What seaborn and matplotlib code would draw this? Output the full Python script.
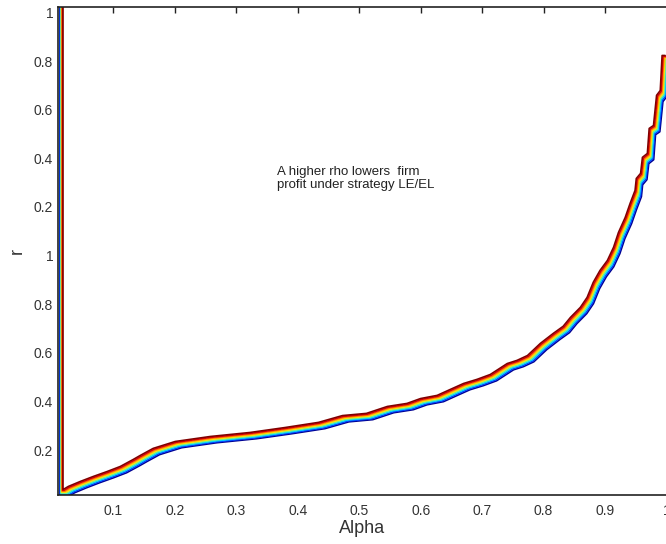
import matplotlib
matplotlib.use("Agg")
import matplotlib.pyplot as plt
import seaborn as sns
import pandas as pd

# base curve (middle of the band), r stacked on a 0..2 scale
alpha = [0.0238, 0.0319, 0.0514, 0.0726, 0.0953, 0.1165, 0.1376, 0.149, 0.170, 0.206,
         0.263, 0.328, 0.385, 0.439, 0.478, 0.517, 0.551, 0.583, 0.605, 0.632,
         0.653, 0.675, 0.697, 0.7185, 0.746, 0.762, 0.779, 0.800, 0.821, 0.837,
         0.849, 0.865, 0.876, 0.886, 0.897, 0.909, 0.919, 0.927, 0.938, 0.946,
         0.954, 0.956, 0.963, 0.966, 0.974, 0.977, 0.984, 0.989, 0.995, 0.998, 1.003]
r = [0.0251, 0.0374, 0.058, 0.0786, 0.0991, 0.1197, 0.1485, 0.165, 0.194, 0.2225,
     0.243, 0.2596, 0.280, 0.301, 0.329, 0.338, 0.3665, 0.379, 0.399, 0.412,
     0.436, 0.461, 0.478, 0.498, 0.543, 0.556, 0.576, 0.626, 0.667, 0.696,
     0.733, 0.774, 0.815, 0.877, 0.926, 0.967, 1.021, 1.082, 1.144, 1.202,
     1.255, 1.304, 1.325, 1.391, 1.407, 1.510, 1.522, 1.646, 1.666, 1.810, 1.810]

# one line per rho value, each slightly shifted
alpha_shift = [-0.0052, -0.0037, -0.0022, -0.0007, 0.0007, 0.0022, 0.0037, 0.0052]
r_shift = [0.0130, 0.0093, 0.0056, 0.0019, -0.0019, -0.0056, -0.0093, -0.0130]
colors = ['#800000', '#e00000', '#ff8000', '#ffe000', '#70f090', '#00d0ff', '#0040ff', '#000090']

alpha_start = 0.0155
r_top = 2.1

xticks = [0.1, 0.2, 0.3, 0.4, 0.5, 0.6, 0.7, 0.8, 0.9, 1.0]
xticklabels = ['0.1', '0.2', '0.3', '0.4', '0.5', '0.6', '0.7', '0.8', '0.9', '1']
yticks = [0.2, 0.4, 0.6, 0.8, 1.0, 1.2, 1.4, 1.6, 1.8, 2.0]
yticklabels = ['0.2', '0.4', '0.6', '0.8', '1', '0.2', '0.4', '0.6', '0.8', '1']

frames = []
for i, (dx, dy) in enumerate(zip(alpha_shift, r_shift)):
    a = [alpha_start - 0.5 * dx, alpha_start - 0.5 * dx] + [v + dx for v in alpha]
    rr = [r_top, r[0] + dy] + [v + dy for v in r]
    frames.append(pd.DataFrame({'alpha': a, 'r': rr, 'series': i}))
df = pd.concat(frames, ignore_index=True)

sns.set_style("white")
plt.rcParams['font.family'] = ['Liberation Sans', 'DejaVu Sans']

fig = plt.figure(figsize=(6.66, 5.44), dpi=100)
ax = fig.add_axes([58 / 666, 48.7 / 544, 608.5 / 666, 488 / 544])

order = list(range(len(colors)))[::-1]
sns.lineplot(data=df, x='alpha', y='r', hue='series', hue_order=order,
             palette=colors[::-1], estimator=None, sort=False,
             linewidth=1.15, legend=False, ax=ax)

ax.set_xlim(0.01, 1.0)
ax.set_ylim(0.014, 2.021)
ax.set_xticks(xticks)
ax.set_xticklabels(xticklabels)
ax.set_yticks(yticks)
ax.set_yticklabels(yticklabels)
ax.tick_params(direction='in', length=4, width=1, top=True, right=False,
               labelsize=10, labelcolor='#333333', color='#222222')
ax.tick_params(axis='x', pad=6)
for side in ['left', 'bottom', 'top']:
    ax.spines[side].set_color('#222222')
    ax.spines[side].set_linewidth(1.2)
ax.spines['right'].set_visible(False)

ax.set_xlabel("Alpha", fontsize=13, labelpad=2, color='#333333')
ax.set_ylabel("r", fontsize=13, labelpad=6, color='#333333')

ax.text(0.366, 1.37, "A higher rho lowers  firm\nprofit under strategy LE/EL",
        fontsize=9.5, ha='left', va='top', linespacing=1.15, color='#222222')

fig.savefig("out.png", dpi=100)
